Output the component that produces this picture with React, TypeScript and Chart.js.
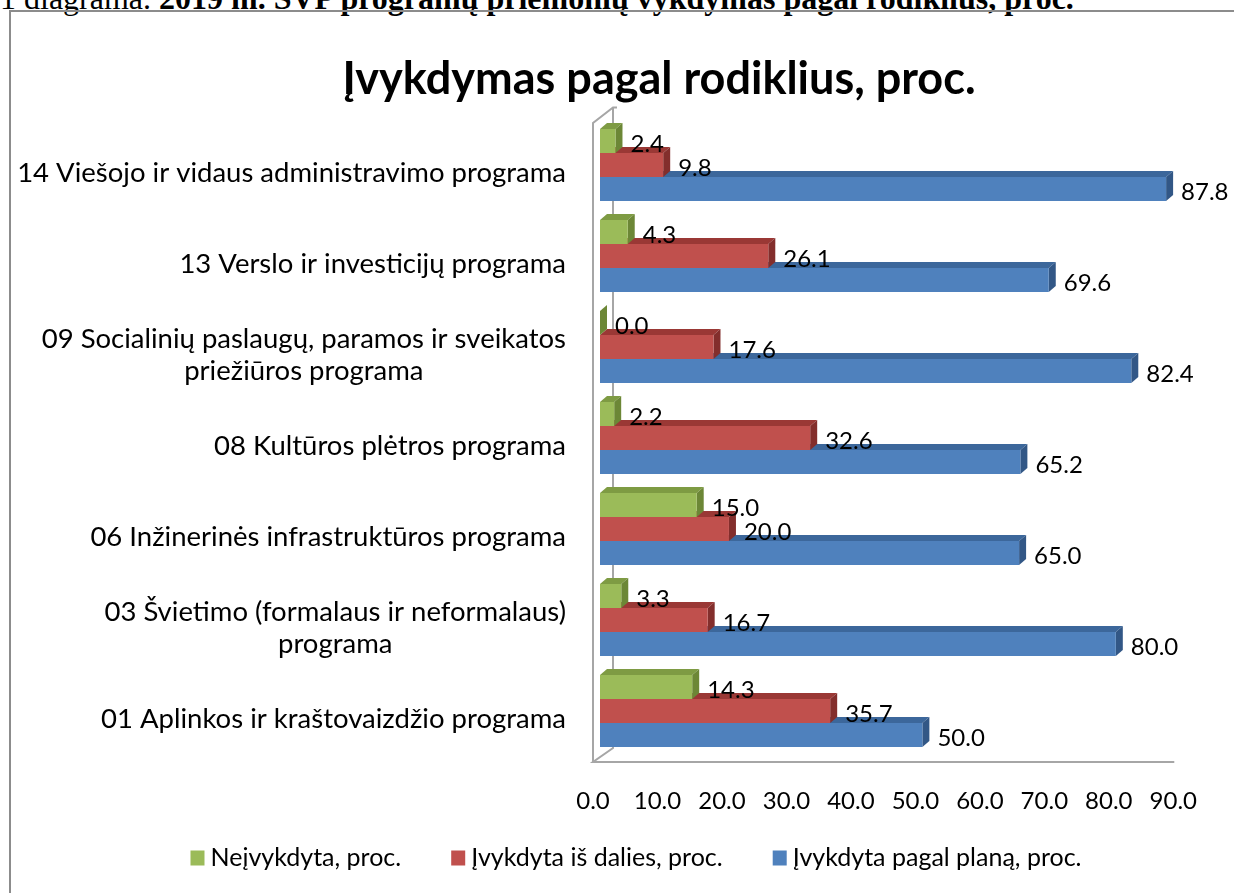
import React, { useEffect, useRef } from "react";
import { Chart, registerables } from "chart.js";

Chart.register(...registerables);

const categories: (string | string[])[] = [
  "14 Viešojo ir vidaus administravimo programa",
  "13 Verslo ir investicijų programa",
  ["09 Socialinių paslaugų, paramos ir sveikatos", "priežiūros programa"],
  "08 Kultūros plėtros programa",
  "06 Inžinerinės infrastruktūros programa",
  ["03 Švietimo (formalaus ir neformalaus)", "programa"],
  "01 Aplinkos ir kraštovaizdžio programa",
];

const seriesNames = ["Neįvykdyta, proc.", "Įvykdyta iš dalies, proc.", "Įvykdyta pagal planą, proc."];
const notDone = [2.4, 4.3, 0.0, 2.2, 15.0, 3.3, 14.3];
const partlyDone = [9.8, 26.1, 17.6, 32.6, 20.0, 16.7, 35.7];
const doneByPlan = [87.8, 69.6, 82.4, 65.2, 65.0, 80.0, 50.0];
const xTicks = [0, 10, 20, 30, 40, 50, 60, 70, 80, 90];

const frontColors = ["#9BBB59", "#C0504D", "#4F81BD"];
const topColors = ["#7E9B43", "#9A3835", "#3C679B"];
const sideColors = ["#6C8736", "#832E2C", "#325786"];

const FONT = "Lato, 'Open Sans', sans-serif";
const DX = 7;
const DY = 6;

const depthPlugin = {
  id: "depth3d",
  beforeDatasetsDraw(chart: any) {
    const { ctx, chartArea } = chart;
    const l = chartArea.left, t = chartArea.top, b = chartArea.bottom, r = chartArea.right;
    ctx.save();
    ctx.strokeStyle = "#A6A6A6";
    ctx.lineWidth = 2;
    const fl = l - 7, fb = b + 5.5, ft = t + 3.5;
    const bl = l + 13, bt = t - 12;
    ctx.beginPath();
    ctx.moveTo(fl, fb);
    ctx.lineTo(fl, ft);
    ctx.lineTo(bl, bt);
    ctx.lineTo(bl + 4, bt);
    ctx.moveTo(bl, bt);
    ctx.lineTo(bl, fb - 14);
    ctx.lineTo(fl, fb);
    ctx.lineTo(r - 6, fb);
    ctx.stroke();
    ctx.restore();
  },
  beforeDatasetDraw(chart: any, args: any) {
    const { ctx } = chart;
    const idx = args.index;
    ctx.save();
    args.meta.data.forEach((bar: any) => {
      const p = bar.getProps(["x", "y", "base", "height"], true);
      const top = p.y - p.height / 2;
      const bottom = p.y + p.height / 2;
      ctx.fillStyle = topColors[idx];
      ctx.beginPath();
      ctx.moveTo(p.base, top);
      ctx.lineTo(p.base + DX, top - DY);
      ctx.lineTo(p.x + DX, top - DY);
      ctx.lineTo(p.x, top);
      ctx.closePath();
      ctx.fill();
      ctx.fillStyle = sideColors[idx];
      ctx.beginPath();
      ctx.moveTo(p.x, top);
      ctx.lineTo(p.x + DX, top - DY);
      ctx.lineTo(p.x + DX, bottom - DY);
      ctx.lineTo(p.x, bottom);
      ctx.closePath();
      ctx.fill();
    });
    ctx.restore();
  },
  afterDatasetsDraw(chart: any) {
    const { ctx } = chart;
    ctx.save();
    ctx.fillStyle = "#000";
    ctx.font = `24px ${FONT}`;
    ctx.textAlign = "left";
    ctx.textBaseline = "middle";
    chart.data.datasets.forEach((ds: any, i: number) => {
      const meta = chart.getDatasetMeta(i);
      meta.data.forEach((bar: any, j: number) => {
        const p = bar.getProps(["x", "y"], true);
        ctx.fillText(Number(ds.data[j]).toFixed(1), p.x + 15, p.y + 3);
      });
    });
    // category labels
    const yScale = chart.scales.y;
    ctx.font = `27.5px ${FONT}`;
    ctx.textAlign = "center";
    const rightEdge = 566;
    categories.forEach((lab, i) => {
      const lines = Array.isArray(lab) ? lab : [lab];
      const w = Math.max(...lines.map((s) => ctx.measureText(s).width));
      const cx = rightEdge - w / 2;
      const cy = yScale.getPixelForValue(i) + 8;
      const lh = 32;
      lines.forEach((s, k) => {
        ctx.fillText(s, cx, cy + (k - (lines.length - 1) / 2) * lh);
      });
    });
    // legend
    ctx.font = `25px ${FONT}`;
    ctx.textAlign = "left";
    const gap = 50;
    const box = 14;
    const items = chart.data.datasets.map((ds: any) => ({
      text: ds.label,
      color: ds.backgroundColor,
      w: box + 6 + ctx.measureText(ds.label).width,
    }));
    const total = items.reduce((s: number, it: any) => s + it.w, 0) + gap * (items.length - 1);
    let x = chart.width / 2 + 19 - total / 2;
    const ly = 858;
    items.forEach((it: any) => {
      ctx.fillStyle = it.color;
      ctx.fillRect(x, ly - 7.5, box, 15);
      ctx.fillStyle = "#000";
      ctx.fillText(it.text, x + box + 6, ly);
      x += it.w + gap;
    });
    ctx.restore();
  },
};

export default function App() {
  const ref = useRef<HTMLCanvasElement | null>(null);
  useEffect(() => {
    if (!ref.current) return;
    const chart = new Chart(ref.current, {
      type: "bar",
      data: {
        labels: categories as any,
        datasets: [
          { label: seriesNames[0], data: notDone, backgroundColor: frontColors[0] },
          { label: seriesNames[1], data: partlyDone, backgroundColor: frontColors[1] },
          { label: seriesNames[2], data: doneByPlan, backgroundColor: frontColors[2] },
        ],
      },
      options: {
        indexAxis: "y",
        responsive: false,
        animation: false,
        devicePixelRatio: 1,
        datasets: { bar: { categoryPercentage: 0.79, barPercentage: 1.0, borderWidth: 0 } },
        layout: { padding: { left: 137, right: 53, top: 0, bottom: 47.7 } },
        plugins: {
          legend: { display: false },
          tooltip: { enabled: false },
          title: {
            display: true,
            text: "Įvykdymas pagal rodiklius, proc.",
            color: "#000",
            font: { family: FONT, size: 45, weight: "bold" },
            padding: { top: 52, bottom: 13.5 },
          },
        },
        scales: {
          x: {
            min: 0,
            max: 90,
            afterBuildTicks: (scale: any) => {
              scale.ticks = xTicks.map((v) => ({ value: v }));
            },
            grid: { display: false, drawTicks: false },
            border: { display: false },
            ticks: {
              color: "#000",
              font: { family: FONT, size: 24 },
              padding: 30,
              labelOffset: -7,
              maxRotation: 0,
              callback: (v: any) => Number(v).toFixed(1),
            },
          },
          y: {
            display: true,
            grid: { display: false, drawTicks: false },
            border: { display: false },
            ticks: { display: false },
            afterFit: (scale: any) => {
              scale.width = 463;
            },
          },
        },
      },
      plugins: [depthPlugin],
    } as any);
    return () => chart.destroy();
  }, []);

  return (
    <div style={{ position: "absolute", left: 0, top: 0, width: 1234, height: 893, overflow: "hidden", background: "#fff" }}>
      <div
        style={{
          position: "absolute",
          left: 0,
          top: -18,
          fontFamily: "'Liberation Serif', 'Times New Roman', serif",
          fontSize: 32,
          lineHeight: "32px",
          whiteSpace: "nowrap",
          color: "#000",
        }}
      >
        1 diagrama. <b>2019 m. SVP programų priemonių vykdymas pagal rodiklius, proc.</b>
      </div>
      <div
        style={{
          position: "absolute",
          left: 9,
          top: 10,
          width: 1400,
          height: 1000,
          border: "2px solid #8C8C8C",
        }}
      />
      <canvas ref={ref} width={1234} height={893} style={{ position: "absolute", left: 0, top: 0, width: 1234, height: 893 }} />
    </div>
  );
}
